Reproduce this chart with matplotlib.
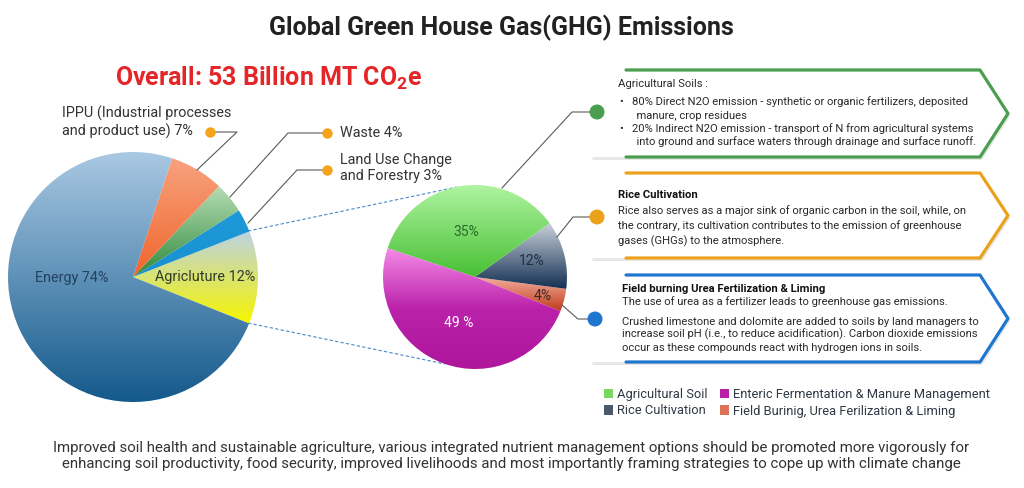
import numpy as np
import matplotlib
matplotlib.use("Agg")
import matplotlib.pyplot as plt
from matplotlib.colors import LinearSegmentedColormap
from matplotlib.patches import Polygon, Circle, Patch

# ---------------- data ----------------
title = "Global Green House Gas(GHG) Emissions"
overall = "Overall: 53 Billion MT CO$_\\mathregular{2}$e"

main_labels = ["Agricluture", "Land Use Change\nand Forestry", "Waste",
               "IPPU (Industrial processes\nand product use)", "Energy"]
main_values = [12, 3, 4, 7, 74]

agri_labels = ["Field Burinig, Urea Ferilization & Liming", "Rice Cultivation",
               "Agricultural Soil", "Enteric Fermentation & Manure Management"]
agri_values = [4, 12, 35, 49]
agri_pct_text = ["4%", "12%", "35%", "49 %"]

box_titles = ["Agricultural Soils :", "Rice Cultivation",
              "Field burning Urea Fertilization & Liming"]
box1_lines = ["\u2022   80% Direct N2O emission - synthetic or organic fertilizers, deposited",
              "      manure, crop residues",
              "\u2022   20% Indirect N2O emission - transport of N from agricultural systems",
              "      into ground and surface waters through drainage and surface runoff."]
box2_lines = ["Rice also serves as a major sink of organic carbon in the soil, while, on",
              "the contrary, its cultivation contributes to the emission of greenhouse",
              "gases (GHGs) to the atmosphere."]
box3_lines = ["The use of urea as a fertilizer leads to greenhouse gas emissions.",
              "",
              "Crushed limestone and dolomite are added to soils by land managers to",
              "increase soil pH (i.e., to reduce acidification). Carbon dioxide emissions",
              "occur as these compounds react with hydrogen ions in soils."]
footer = ("Improved soil health and sustainable agriculture, various integrated nutrient management options should be promoted more vigorously for\n"
          "enhancing soil productivity, food security, improved livelihoods and most importantly framing strategies to cope up with climate change")

# ---------------- figure ----------------
W, H = 1024, 488
fig = plt.figure(figsize=(W / 100, H / 100), dpi=100)
ax = fig.add_axes([0, 0, 1, 1])
ax.set_xlim(0, W)
ax.set_ylim(0, H)
ax.axis("off")
FONT = ["Roboto", "DejaVu Sans"]


def Y(py):
    return H - py


def grad_fill(wedge, c_top, c_bottom, mid=None, z=2):
    ext = wedge.get_path().get_extents()
    cols = [c_bottom, c_top] if mid is None else [c_bottom, mid, c_top]
    cmap = LinearSegmentedColormap.from_list("g", cols)
    g = np.linspace(0, 1, 128).reshape(-1, 1)
    im = ax.imshow(g, extent=[ext.x0, ext.x1, ext.y0, ext.y1], origin="lower",
                   cmap=cmap, aspect="auto", zorder=z, interpolation="bilinear")
    im.set_clip_path(wedge)
    wedge.set_facecolor("none")


# ---------- main pie ----------
c1 = (133, Y(277)); r1 = 125
w1, _ = ax.pie(main_values, center=c1, radius=r1, startangle=-21.8,
               counterclock=True, frame=True,
               wedgeprops=dict(linewidth=0, edgecolor="none"))
main_grads = [("#bcd2e6", "#f6f500", None), ("#1e9ad8", "#1a90d0", None),
              ("#b6dcb4", "#2f8a3c", None), ("#f8a27e", "#f0652c", None),
              ("#a9c8e3", "#145a8c", None)]
for w, (ct, cb, cm) in zip(w1, main_grads):
    grad_fill(w, ct, cb, cm)

# ---------- agriculture pie ----------
c2 = (475, Y(277)); r2 = 92
w2, _ = ax.pie(agri_values, center=c2, radius=r2, startangle=-21.8,
               counterclock=True, frame=True,
               wedgeprops=dict(linewidth=0, edgecolor="none"))
agri_grads = [("#f4b0a0", "#c03c1c", None), ("#c8d0d8", "#132f52", None),
              ("#aef4a0", "#48c034", None), ("#f48ae6", "#ae169c", "#bb22aa")]
for w, (ct, cb, cm) in zip(w2, agri_grads):
    grad_fill(w, ct, cb, cm)

ax.set_xlim(0, W)
ax.set_ylim(0, H)
ax.set_aspect("auto")

# pie labels
ax.text(72, Y(278), f"{main_labels[4]} {main_values[4]}%", fontsize=10.4,
        color="#24415f", family=FONT, ha="center", va="center", zorder=5)
ax.text(205, Y(277), f"{main_labels[0]} {main_values[0]}%", fontsize=10.4,
        color="#2e3a2a", family=FONT, ha="center", va="center", zorder=5)
agri_text_pos = [(543, 296), (532, 261), (466, 232), (459, 323)]
agri_text_col = ["#3a2a22", "#1f2f40", "#2b6b2b", "white"]
for t, (px, py), col in zip(agri_pct_text, agri_text_pos, agri_text_col):
    ax.text(px, Y(py), t, fontsize=10, color=col, family=FONT,
            ha="center", va="center", zorder=5)

# callouts on main pie
lc = "#5a5a5a"
dot = "#f5a31a"
call = [((210, 132), (237, 132), (197, 170)),
        ((327, 133), (288, 133), (230, 197)),
        ((327, 170), (297, 170), (248, 223))]
for pts in call:
    xs = [p[0] for p in pts]; ys = [Y(p[1]) for p in pts]
    ax.plot(xs, ys, color=lc, lw=0.8, zorder=3)
    ax.plot(xs[0], ys[0], "o", color=dot, ms=7.5, zorder=4, mec="none")
ax.text(62, Y(122), f"{main_labels[3]} {main_values[3]}%", fontsize=10.4,
        color="#333333", family=FONT, ha="left", va="center", linespacing=1.2)
ax.text(340, Y(133), f"{main_labels[2]} {main_values[2]}%", fontsize=10.4,
        color="#333333", family=FONT, ha="left", va="center")
ax.text(340, Y(168), f"{main_labels[1]} {main_values[1]}%", fontsize=10.4,
        color="#333333", family=FONT, ha="left", va="center", linespacing=1.2)

# dashed connectors between pies
dc = "#4a88c8"
ax.plot([248, 457], [Y(231), Y(187)], color=dc, lw=0.8, ls=(0, (3, 2)), zorder=1)
ax.plot([248, 445], [Y(323), Y(364)], color=dc, lw=0.8, ls=(0, (3, 2)), zorder=1)

# ---------- right boxes ----------
boxes = [(70, 157, "#4b9e4f", (597, 112), [(597, 112), (572, 112), (502, 188)]),
         (173, 258, "#eaa21c", (597, 217), [(597, 217), (573, 217), (557, 237)]),
         (275, 362, "#1f76cf", (595, 319), [(595, 319), (578, 319), (562, 305)])]
for top, bot, col, cpos, line in boxes:
    mid = (top + bot) / 2
    xs = [p[0] for p in line]; ys = [Y(p[1]) for p in line]
    ax.plot(xs, ys, color=lc, lw=0.8, zorder=3)
    shape = [(590, Y(top)), (980, Y(top)), (1008, Y(mid)), (980, Y(bot)),
             (590, Y(bot)), (604, Y(mid))]
    shadow = [(x + 2, y - 3) for x, y in shape]
    ax.add_patch(Polygon(shadow, closed=True, fc="#d8d8d8", ec="none", alpha=0.6, zorder=3))
    ax.add_patch(Polygon(shape, closed=True, fc="white", ec="none", zorder=4))
    bx = [626, 980, 1008, 980, 626]
    by = [Y(top), Y(top), Y(mid), Y(bot), Y(bot)]
    ax.plot(bx, by, color=col, lw=2.3, solid_joinstyle="round",
            solid_capstyle="round", zorder=5)
    ax.add_patch(Circle((cpos[0], Y(cpos[1])), 7.5, fc=col, ec="none", zorder=6))

TXT = "#2a2a2a"
BF = 8.1
ax.text(618, Y(84), box_titles[0], fontsize=BF, color=TXT, family=FONT,
        ha="left", va="center", zorder=7)
for i, (ln, py) in enumerate(zip(box1_lines, [102, 116, 129, 142])):
    ax.text(620, Y(py), ln, fontsize=BF, color=TXT, family=FONT,
            ha="left", va="center", zorder=7)
ax.text(618, Y(195), box_titles[1], fontsize=BF, color="#111111", family=FONT,
        weight="bold", ha="left", va="center", zorder=7)
for ln, py in zip(box2_lines, [211, 226, 241]):
    ax.text(618, Y(py), ln, fontsize=BF, color=TXT, family=FONT,
            ha="left", va="center", zorder=7)
ax.text(622, Y(289), box_titles[2], fontsize=BF, color="#111111", family=FONT,
        weight="bold", ha="left", va="center", zorder=7)
for ln, py in zip(box3_lines, [302, 312, 322, 334, 348]):
    if ln:
        ax.text(622, Y(py), ln, fontsize=BF, color=TXT, family=FONT,
                ha="left", va="center", zorder=7)

# legend
leg_cols = {"Agricultural Soil": "#78d860",
            "Rice Cultivation": "#4a5a6c",
            "Enteric Fermentation & Manure Management": "#b81ea6",
            "Field Burinig, Urea Ferilization & Liming": "#dc7258"}
order = [agri_labels[2], agri_labels[1], agri_labels[3], agri_labels[0]]
handles = [Patch(fc=leg_cols[k], ec="none") for k in order]
leg = ax.legend(handles, order, ncol=2, loc="upper left",
                bbox_to_anchor=(592 / W, 1 - 376 / H), bbox_transform=fig.transFigure,
                frameon=False, handlelength=0.7, handleheight=0.7,
                handletextpad=0.3, columnspacing=1.0, labelspacing=0.3,
                prop=dict(family=FONT, size=9.3))
for t in leg.get_texts():
    t.set_color("#2f3844")

# titles
ax.text(501, Y(28), title, fontsize=18, weight="bold", color="#222222",
        family=FONT, ha="center", va="center")
ax.text(269, Y(78), overall, fontsize=18, weight="bold", color="#e42628",
        family=FONT, ha="center", va="center")

# footer
ax.text(511, Y(456), footer, fontsize=10.85, color="#333333",
        family=FONT, ha="center", va="center", linespacing=1.25)

fig.savefig("out.png", dpi=100, facecolor="white")
